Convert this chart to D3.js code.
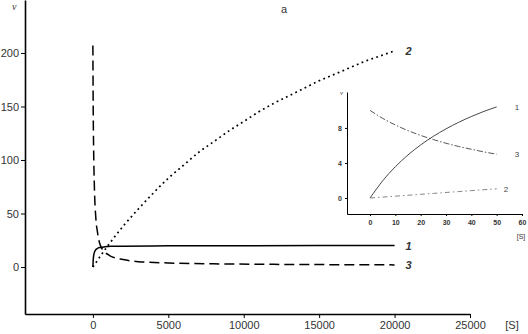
<!DOCTYPE html>
<html>
<head>
<meta charset="utf-8">
<script src="https://cdn.jsdelivr.net/npm/d3@7"></script>
<style>
  body { margin: 0; background: #fff; }
  svg { display: block; font-family: "Liberation Sans", Arial, sans-serif; }
  .axis path, .axis line { stroke: #000; }
  .axis text { fill: #333; }
</style>
</head>
<body>
<svg class="chart" width="528" height="334"></svg>
<script>
// main panel: [S] vs v
const s1 = [0, 25, 50, 100, 200, 300, 500, 800, 1200, 2000, 5000, 10000, 15000, 20000],
      v1 = [0, 7.0, 10.4, 13.7, 16.3, 17.4, 18.3, 18.9, 19.3, 19.5, 19.8, 19.9, 20, 20]
const s2 = [0, 1000, 2000, 3000, 4000, 5000, 6000, 7000, 8000, 9000, 10000, 11000, 12000, 13000, 14000, 15000, 16000, 17000, 18000, 19000, 20000],
      v2 = [0, 20, 38, 54, 69, 83, 95, 107, 117, 127, 136, 145, 153, 160, 167, 174, 180, 186, 192, 197, 202]
const s3 = [0, 20, 50, 100, 200, 300, 500, 800, 1200, 2000, 3000, 5000, 8000, 12000, 16000, 20000],
      v3 = [207, 150, 110, 75, 45, 33, 20, 14, 10, 7, 5, 3.8, 3, 2.5, 2.2, 2]
const xTicks = [0, 5000, 10000, 15000, 20000, 25000],
      yTicks = [0, 50, 100, 150, 200]

// inset: low [S] range
const inS = [0, 5, 10, 15, 20, 25, 30, 35, 40, 45, 50],
      inV1 = [0, 1.96, 3.57, 4.92, 6.06, 7.04, 7.89, 8.64, 9.30, 9.89, 10.4],
      inV2 = [0, 0.1, 0.21, 0.31, 0.42, 0.52, 0.63, 0.73, 0.84, 0.94, 1.05],
      inV3 = [10, 9.09, 8.33, 7.69, 7.14, 6.67, 6.25, 5.88, 5.56, 5.26, 5.0]
const inXTicks = [0, 10, 20, 30, 40, 50, 60],
      inYTicks = [0, 4, 8]

var chart = d3.select(".chart")

// ---- main chart
var x = d3.scaleLinear().domain([-4500, 25000]).range([25, 470]),
    y = d3.scaleLinear().domain([-43.9, 249.5]).range([314, 0])

chart.append("g")
  .attr("class", "axis")
  .attr("transform", "translate(0,314)")
  .call(d3.axisBottom(x).tickValues(xTicks).tickSize(4).tickSizeOuter(0).tickPadding(3).tickFormat(d3.format("")))
  .call(g => g.select(".domain").attr("stroke-width", 1.6))
  .call(g => g.selectAll("text").style("font-size", "11px"))

chart.append("g")
  .attr("class", "axis")
  .attr("transform", "translate(25,0)")
  .call(d3.axisLeft(y).tickValues(yTicks).tickSize(4).tickSizeOuter(0).tickPadding(2))
  .call(g => g.select(".domain").attr("stroke-width", 1.6))
  .call(g => g.selectAll("text").style("font-size", "11px"))

var line = d3.line().curve(d3.curveMonotoneX)
  .x(function(d) { return x(d[0]) })
  .y(function(d) { return y(d[1]) })

chart.append("path")
  .datum(d3.zip(s1, v1))
  .attr("d", line)
  .attr("fill", "none").attr("stroke", "#000").attr("stroke-width", 1.5)

chart.append("path")
  .datum(d3.zip(s2, v2))
  .attr("d", line)
  .attr("fill", "none").attr("stroke", "#000").attr("stroke-width", 1.7)
  .attr("stroke-dasharray", "1.8,3.4")

chart.append("path")
  .datum(d3.zip(s3, v3))
  .attr("d", line)
  .attr("fill", "none").attr("stroke", "#000").attr("stroke-width", 1.5)
  .attr("stroke-dasharray", "10,5")

var labels = [["1", 20000, v1[v1.length - 1]], ["2", 20000, v2[v2.length - 1]], ["3", 20000, v3[v3.length - 1]]]
chart.selectAll(".clabel")
  .data(labels)
  .enter().append("text")
  .attr("x", function(d) { return x(d[1]) + 11 })
  .attr("y", function(d) { return y(d[2]) + 4 })
  .attr("font-size", "11px").attr("font-style", "italic").attr("font-weight", "bold")
  .attr("fill", "#333")
  .text(function(d) { return d[0] })

chart.append("text").attr("x", 12).attr("y", 10)
  .attr("font-family", "Liberation Serif, serif").attr("font-style", "italic")
  .attr("font-size", "10px").attr("fill", "#333").text("v")

chart.append("text").attr("x", 284).attr("y", 13).attr("text-anchor", "middle")
  .attr("font-size", "11px").attr("fill", "#333").text("a")

chart.append("text").attr("x", 512).attr("y", 329).attr("text-anchor", "middle")
  .attr("font-size", "11px").attr("fill", "#333").text("[S]")

// ---- inset
var ix = d3.scaleLinear().domain([-9.1, 60]).range([347, 522]),
    iy = d3.scaleLinear().domain([-1.83, 12.1]).range([214, 92])

chart.append("g")
  .attr("class", "axis")
  .attr("transform", "translate(0,214)")
  .call(d3.axisBottom(ix).tickValues(inXTicks).tickSize(2).tickSizeOuter(0).tickPadding(4))
  .call(g => g.selectAll("text").style("font-size", "7px").attr("font-weight", "bold"))

chart.append("g")
  .attr("class", "axis")
  .attr("transform", "translate(347,0)")
  .call(d3.axisLeft(iy).tickValues(inYTicks).tickSize(2).tickSizeOuter(0).tickPadding(3))
  .call(g => g.selectAll("text").style("font-size", "7px").attr("font-weight", "bold"))

var iline = d3.line().curve(d3.curveMonotoneX)
  .x(function(d) { return ix(d[0]) })
  .y(function(d) { return iy(d[1]) })

chart.append("path")
  .datum(d3.zip(inS, inV1))
  .attr("d", iline)
  .attr("fill", "none").attr("stroke", "#333").attr("stroke-width", 0.9)

chart.append("path")
  .datum(d3.zip(inS, inV2))
  .attr("d", iline)
  .attr("fill", "none").attr("stroke", "#777").attr("stroke-width", 0.9)
  .attr("stroke-dasharray", "5,3,1.5,3")

chart.append("path")
  .datum(d3.zip(inS, inV3))
  .attr("d", iline)
  .attr("fill", "none").attr("stroke", "#444").attr("stroke-width", 0.9)
  .attr("stroke-dasharray", "6,2,1.5,2")

var ilabels = [["1", inV1[inV1.length - 1], 20], ["2", inV2[inV2.length - 1], 9], ["3", inV3[inV3.length - 1], 20]]
chart.selectAll(".ilabel")
  .data(ilabels)
  .enter().append("text")
  .attr("x", function(d) { return ix(50) + d[2] - 2 })
  .attr("y", function(d) { return iy(d[1]) + 3 })
  .attr("font-size", "8px").attr("fill", "#444")
  .text(function(d) { return d[0] })

chart.append("text").attr("x", 340).attr("y", 95)
  .attr("font-family", "Liberation Serif, serif").attr("font-style", "italic")
  .attr("font-size", "7px").attr("fill", "#444").text("v")

chart.append("text").attr("x", 521).attr("y", 239).attr("text-anchor", "middle")
  .attr("font-size", "7px").attr("fill", "#333").text("[S]")
</script>
</body>
</html>
